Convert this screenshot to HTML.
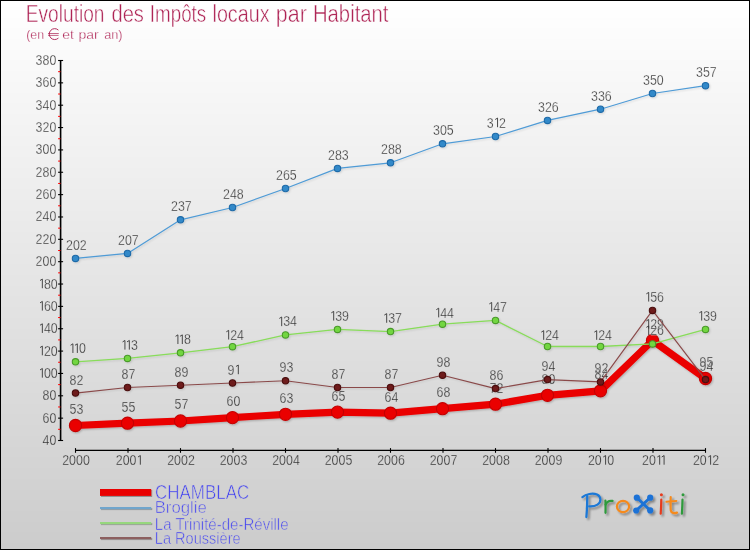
<!DOCTYPE html>
<html><head><meta charset="utf-8"><title>Evolution des Impôts locaux par Habitant</title>
<style>
html,body{margin:0;padding:0;background:#fff;}
body{width:750px;height:550px;overflow:hidden;font-family:"Liberation Sans",sans-serif;}
svg{display:block}
text{font-family:"Liberation Sans",sans-serif;}
</style></head><body>
<svg width="750" height="550" viewBox="0 0 750 550" style="will-change:transform">
<defs>
<linearGradient id="bg" x1="0" y1="0" x2="0" y2="1"><stop offset="0" stop-color="#fefefe"/><stop offset="1" stop-color="#cccccc"/></linearGradient>
<filter id="sh" x="-20%" y="-20%" width="140%" height="140%"><feGaussianBlur in="SourceAlpha" stdDeviation="1"/><feOffset dx="1" dy="1"/><feComponentTransfer><feFuncA type="linear" slope="0.24"/></feComponentTransfer><feMerge><feMergeNode/><feMergeNode in="SourceGraphic"/></feMerge></filter>
<filter id="sh1" x="-20%" y="-20%" width="140%" height="140%"><feGaussianBlur in="SourceAlpha" stdDeviation="0.9"/><feOffset dx="1" dy="1"/><feComponentTransfer><feFuncA type="linear" slope="0.14"/></feComponentTransfer><feMerge><feMergeNode/><feMergeNode in="SourceGraphic"/></feMerge></filter>
<filter id="shl" x="-10%" y="-50%" width="120%" height="200%"><feGaussianBlur in="SourceAlpha" stdDeviation="0.5"/><feOffset dx="0.9" dy="0.9"/><feComponentTransfer><feFuncA type="linear" slope="0.34"/></feComponentTransfer><feMerge><feMergeNode/><feMergeNode in="SourceGraphic"/></feMerge></filter>
<filter id="sh2" x="-20%" y="-20%" width="140%" height="140%"><feGaussianBlur in="SourceAlpha" stdDeviation="1"/><feOffset dx="1.5" dy="1.5"/><feComponentTransfer><feFuncA type="linear" slope="0.38"/></feComponentTransfer><feMerge><feMergeNode/><feMergeNode in="SourceGraphic"/></feMerge></filter>
</defs>
<rect x="0" y="0" width="750" height="550" fill="#000"/>
<rect x="1" y="1" width="748" height="6" fill="#ffffff"/><rect x="1" y="7" width="748" height="11" fill="#fefefe"/><rect x="1" y="18" width="748" height="10" fill="#fdfdfd"/><rect x="1" y="28" width="748" height="11" fill="#fcfcfc"/><rect x="1" y="39" width="748" height="11" fill="#fbfbfb"/><rect x="1" y="50" width="748" height="10" fill="#fafafa"/><rect x="1" y="60" width="748" height="11" fill="#f9f9f9"/><rect x="1" y="71" width="748" height="11" fill="#f8f8f8"/><rect x="1" y="82" width="748" height="11" fill="#f7f7f7"/><rect x="1" y="93" width="748" height="10" fill="#f6f6f6"/><rect x="1" y="103" width="748" height="11" fill="#f5f5f5"/><rect x="1" y="114" width="748" height="11" fill="#f4f4f4"/><rect x="1" y="125" width="748" height="11" fill="#f3f3f3"/><rect x="1" y="136" width="748" height="10" fill="#f2f2f2"/><rect x="1" y="146" width="748" height="11" fill="#f1f1f1"/><rect x="1" y="157" width="748" height="11" fill="#f0f0f0"/><rect x="1" y="168" width="748" height="10" fill="#efefef"/><rect x="1" y="178" width="748" height="11" fill="#eeeeee"/><rect x="1" y="189" width="748" height="11" fill="#ededed"/><rect x="1" y="200" width="748" height="11" fill="#ececec"/><rect x="1" y="211" width="748" height="10" fill="#ebebeb"/><rect x="1" y="221" width="748" height="11" fill="#eaeaea"/><rect x="1" y="232" width="748" height="11" fill="#e9e9e9"/><rect x="1" y="243" width="748" height="11" fill="#e8e8e8"/><rect x="1" y="254" width="748" height="10" fill="#e7e7e7"/><rect x="1" y="264" width="748" height="11" fill="#e6e6e6"/><rect x="1" y="275" width="748" height="11" fill="#e5e5e5"/><rect x="1" y="286" width="748" height="10" fill="#e4e4e4"/><rect x="1" y="296" width="748" height="11" fill="#e3e3e3"/><rect x="1" y="307" width="748" height="11" fill="#e2e2e2"/><rect x="1" y="318" width="748" height="11" fill="#e1e1e1"/><rect x="1" y="329" width="748" height="10" fill="#e0e0e0"/><rect x="1" y="339" width="748" height="11" fill="#dfdfdf"/><rect x="1" y="350" width="748" height="11" fill="#dedede"/><rect x="1" y="361" width="748" height="11" fill="#dddddd"/><rect x="1" y="372" width="748" height="10" fill="#dcdcdc"/><rect x="1" y="382" width="748" height="11" fill="#dbdbdb"/><rect x="1" y="393" width="748" height="11" fill="#dadada"/><rect x="1" y="404" width="748" height="10" fill="#d9d9d9"/><rect x="1" y="414" width="748" height="11" fill="#d8d8d8"/><rect x="1" y="425" width="748" height="11" fill="#d7d7d7"/><rect x="1" y="436" width="748" height="11" fill="#d6d6d6"/><rect x="1" y="447" width="748" height="10" fill="#d5d5d5"/><rect x="1" y="457" width="748" height="11" fill="#d4d4d4"/><rect x="1" y="468" width="748" height="11" fill="#d3d3d3"/><rect x="1" y="479" width="748" height="11" fill="#d2d2d2"/><rect x="1" y="490" width="748" height="10" fill="#d1d1d1"/><rect x="1" y="500" width="748" height="11" fill="#d0d0d0"/><rect x="1" y="511" width="748" height="11" fill="#cfcfcf"/><rect x="1" y="522" width="748" height="10" fill="#cecece"/><rect x="1" y="532" width="748" height="11" fill="#cdcdcd"/><rect x="1" y="543" width="748" height="6" fill="#cccccc"/>
<text x="25.75" y="22.00" font-size="24.7" textLength="78.76" lengthAdjust="spacingAndGlyphs" fill="#ae2455" stroke="#fefefe" stroke-width="0.5">Evolution</text>
<text x="111.48" y="22.00" font-size="24.7" textLength="32.48" lengthAdjust="spacingAndGlyphs" fill="#ae2455" stroke="#fefefe" stroke-width="0.5">des</text>
<text x="149.79" y="22.00" font-size="24.7" textLength="56.46" lengthAdjust="spacingAndGlyphs" fill="#ae2455" stroke="#fefefe" stroke-width="0.5">Impôts</text>
<text x="212.50" y="22.00" font-size="24.7" textLength="57.10" lengthAdjust="spacingAndGlyphs" fill="#ae2455" stroke="#fefefe" stroke-width="0.5">locaux</text>
<text x="275.80" y="22.00" font-size="24.7" textLength="30.98" lengthAdjust="spacingAndGlyphs" fill="#ae2455" stroke="#fefefe" stroke-width="0.5">par</text>
<text x="312.96" y="22.00" font-size="24.7" textLength="75.51" lengthAdjust="spacingAndGlyphs" fill="#ae2455" stroke="#fefefe" stroke-width="0.5">Habitant</text>
<text x="26.20" y="39.30" font-size="13.2" textLength="17.86" lengthAdjust="spacingAndGlyphs" fill="#ae2455" stroke="#fcfcfc" stroke-width="0.3">(en</text>
<text x="62.37" y="39.30" font-size="13.2" textLength="11.63" lengthAdjust="spacingAndGlyphs" fill="#ae2455" stroke="#fcfcfc" stroke-width="0.3">et</text>
<text x="78.50" y="39.30" font-size="13.2" textLength="20.26" lengthAdjust="spacingAndGlyphs" fill="#ae2455" stroke="#fcfcfc" stroke-width="0.3">par</text>
<text x="104.22" y="39.30" font-size="13.2" textLength="18.36" lengthAdjust="spacingAndGlyphs" fill="#ae2455" stroke="#fcfcfc" stroke-width="0.3">an)</text>
<path d="M58.42 30.11A5.45 5.45 0 1 0 58.42 38.09" fill="none" stroke="#ae2455" stroke-width="0.95"/><path d="M48 33.5H58.8M48 35.4H58.6" fill="none" stroke="#ae2455" stroke-width="0.7"/>
<g stroke="#000" stroke-width="1.6" fill="none"><line x1="60.6" y1="60" x2="60.6" y2="441"/></g>
<g stroke="#000" stroke-width="1.1"><line x1="58.1" y1="440.50" x2="63.1" y2="440.50"/><line x1="58.1" y1="418.15" x2="63.1" y2="418.15"/><line x1="58.1" y1="395.79" x2="63.1" y2="395.79"/><line x1="58.1" y1="373.44" x2="63.1" y2="373.44"/><line x1="58.1" y1="351.09" x2="63.1" y2="351.09"/><line x1="58.1" y1="328.74" x2="63.1" y2="328.74"/><line x1="58.1" y1="306.38" x2="63.1" y2="306.38"/><line x1="58.1" y1="284.03" x2="63.1" y2="284.03"/><line x1="58.1" y1="261.68" x2="63.1" y2="261.68"/><line x1="58.1" y1="239.32" x2="63.1" y2="239.32"/><line x1="58.1" y1="216.97" x2="63.1" y2="216.97"/><line x1="58.1" y1="194.62" x2="63.1" y2="194.62"/><line x1="58.1" y1="172.26" x2="63.1" y2="172.26"/><line x1="58.1" y1="149.91" x2="63.1" y2="149.91"/><line x1="58.1" y1="127.56" x2="63.1" y2="127.56"/><line x1="58.1" y1="105.21" x2="63.1" y2="105.21"/><line x1="58.1" y1="82.85" x2="63.1" y2="82.85"/><line x1="58.1" y1="60.50" x2="63.1" y2="60.50"/></g>
<g stroke="#f00" stroke-width="1"><line x1="58.1" y1="429.32" x2="60.5" y2="429.32"/><line x1="58.1" y1="406.97" x2="60.5" y2="406.97"/><line x1="58.1" y1="384.62" x2="60.5" y2="384.62"/><line x1="58.1" y1="362.26" x2="60.5" y2="362.26"/><line x1="58.1" y1="339.91" x2="60.5" y2="339.91"/><line x1="58.1" y1="317.56" x2="60.5" y2="317.56"/><line x1="58.1" y1="295.21" x2="60.5" y2="295.21"/><line x1="58.1" y1="272.85" x2="60.5" y2="272.85"/><line x1="58.1" y1="250.50" x2="60.5" y2="250.50"/><line x1="58.1" y1="228.15" x2="60.5" y2="228.15"/><line x1="58.1" y1="205.79" x2="60.5" y2="205.79"/><line x1="58.1" y1="183.44" x2="60.5" y2="183.44"/><line x1="58.1" y1="161.09" x2="60.5" y2="161.09"/><line x1="58.1" y1="138.74" x2="60.5" y2="138.74"/><line x1="58.1" y1="116.38" x2="60.5" y2="116.38"/><line x1="58.1" y1="94.03" x2="60.5" y2="94.03"/><line x1="58.1" y1="71.68" x2="60.5" y2="71.68"/></g>
<text transform="translate(42.50,445.00) scale(0.8993,1)" x="0.00 7.67" y="0" font-size="13.8" fill="#323232" stroke="#d6d6d6" stroke-width="0.28">40</text><text transform="translate(42.50,422.65) scale(0.8993,1)" x="0.00 7.67" y="0" font-size="13.8" fill="#323232" stroke="#d8d8d8" stroke-width="0.28">60</text><text transform="translate(42.50,400.29) scale(0.8993,1)" x="0.00 7.67" y="0" font-size="13.8" fill="#323232" stroke="#dadada" stroke-width="0.28">80</text><text transform="translate(43.90,377.94) scale(0.8993,1)" x="0.00 7.67" y="0" font-size="13.8" fill="#323232" stroke="#dcdcdc" stroke-width="0.28">00</text><path d="M42.35 377.64V368.49L40.00 369.94" fill="none" stroke="#323232" stroke-width="0.88" stroke-linejoin="miter"/><text transform="translate(43.90,355.59) scale(0.8993,1)" x="0.00 7.67" y="0" font-size="13.8" fill="#323232" stroke="#dedede" stroke-width="0.28">20</text><path d="M42.35 355.29V346.14L40.00 347.59" fill="none" stroke="#323232" stroke-width="0.88" stroke-linejoin="miter"/><text transform="translate(43.90,333.24) scale(0.8993,1)" x="0.00 7.67" y="0" font-size="13.8" fill="#323232" stroke="#e0e0e0" stroke-width="0.28">40</text><path d="M42.35 332.94V323.79L40.00 325.24" fill="none" stroke="#323232" stroke-width="0.88" stroke-linejoin="miter"/><text transform="translate(43.90,310.88) scale(0.8993,1)" x="0.00 7.67" y="0" font-size="13.8" fill="#323232" stroke="#e3e3e3" stroke-width="0.28">60</text><path d="M42.35 310.58V301.43L40.00 302.88" fill="none" stroke="#323232" stroke-width="0.88" stroke-linejoin="miter"/><text transform="translate(43.90,288.53) scale(0.8993,1)" x="0.00 7.67" y="0" font-size="13.8" fill="#323232" stroke="#e5e5e5" stroke-width="0.28">80</text><path d="M42.35 288.23V279.08L40.00 280.53" fill="none" stroke="#323232" stroke-width="0.88" stroke-linejoin="miter"/><text transform="translate(35.60,266.18) scale(0.8993,1)" x="0.00 7.67 15.35" y="0" font-size="13.8" fill="#323232" stroke="#e7e7e7" stroke-width="0.28">200</text><text transform="translate(35.60,243.82) scale(0.8993,1)" x="0.00 7.67 15.35" y="0" font-size="13.8" fill="#323232" stroke="#e9e9e9" stroke-width="0.28">220</text><text transform="translate(35.60,221.47) scale(0.8993,1)" x="0.00 7.67 15.35" y="0" font-size="13.8" fill="#323232" stroke="#ebebeb" stroke-width="0.28">240</text><text transform="translate(35.60,199.12) scale(0.8993,1)" x="0.00 7.67 15.35" y="0" font-size="13.8" fill="#323232" stroke="#ededed" stroke-width="0.28">260</text><text transform="translate(35.60,176.76) scale(0.8993,1)" x="0.00 7.67 15.35" y="0" font-size="13.8" fill="#323232" stroke="#efefef" stroke-width="0.28">280</text><text transform="translate(35.60,154.41) scale(0.8993,1)" x="0.00 7.67 15.35" y="0" font-size="13.8" fill="#323232" stroke="#f1f1f1" stroke-width="0.28">300</text><text transform="translate(35.60,132.06) scale(0.8993,1)" x="0.00 7.67 15.35" y="0" font-size="13.8" fill="#323232" stroke="#f3f3f3" stroke-width="0.28">320</text><text transform="translate(35.60,109.71) scale(0.8993,1)" x="0.00 7.67 15.35" y="0" font-size="13.8" fill="#323232" stroke="#f5f5f5" stroke-width="0.28">340</text><text transform="translate(35.60,87.35) scale(0.8993,1)" x="0.00 7.67 15.35" y="0" font-size="13.8" fill="#323232" stroke="#f7f7f7" stroke-width="0.28">360</text><text transform="translate(35.60,65.00) scale(0.8993,1)" x="0.00 7.67 15.35" y="0" font-size="13.8" fill="#323232" stroke="#f9f9f9" stroke-width="0.28">380</text>
<g stroke="#000"><line x1="75" y1="450.4" x2="706" y2="450.4" stroke-width="1.4"/><line x1="75.5" y1="448.1" x2="75.5" y2="452.8" stroke-width="1.1"/><line x1="128.0" y1="448.1" x2="128.0" y2="452.8" stroke-width="1.1"/><line x1="180.5" y1="448.1" x2="180.5" y2="452.8" stroke-width="1.1"/><line x1="233.0" y1="448.1" x2="233.0" y2="452.8" stroke-width="1.1"/><line x1="285.5" y1="448.1" x2="285.5" y2="452.8" stroke-width="1.1"/><line x1="338.0" y1="448.1" x2="338.0" y2="452.8" stroke-width="1.1"/><line x1="390.5" y1="448.1" x2="390.5" y2="452.8" stroke-width="1.1"/><line x1="443.0" y1="448.1" x2="443.0" y2="452.8" stroke-width="1.1"/><line x1="495.5" y1="448.1" x2="495.5" y2="452.8" stroke-width="1.1"/><line x1="548.0" y1="448.1" x2="548.0" y2="452.8" stroke-width="1.1"/><line x1="600.5" y1="448.1" x2="600.5" y2="452.8" stroke-width="1.1"/><line x1="653.0" y1="448.1" x2="653.0" y2="452.8" stroke-width="1.1"/><line x1="705.5" y1="448.1" x2="705.5" y2="452.8" stroke-width="1.1"/></g>
<text transform="translate(62.20,465.00) scale(0.8993,1)" x="0.00 7.67 15.35 23.02" y="0" font-size="13.8" fill="#323232" stroke="#d4d4d4" stroke-width="0.28">2000</text><text transform="translate(115.78,465.00) scale(0.8993,1)" x="0.00 7.67 15.35" y="0" font-size="13.8" fill="#323232" stroke="#d4d4d4" stroke-width="0.28">200</text><path d="M140.33 464.70V455.55L137.98 457.00" fill="none" stroke="#323232" stroke-width="0.88" stroke-linejoin="miter"/><text transform="translate(167.20,465.00) scale(0.8993,1)" x="0.00 7.67 15.35 23.02" y="0" font-size="13.8" fill="#323232" stroke="#d4d4d4" stroke-width="0.28">2002</text><text transform="translate(219.70,465.00) scale(0.8993,1)" x="0.00 7.67 15.35 23.02" y="0" font-size="13.8" fill="#323232" stroke="#d4d4d4" stroke-width="0.28">2003</text><text transform="translate(272.20,465.00) scale(0.8993,1)" x="0.00 7.67 15.35 23.02" y="0" font-size="13.8" fill="#323232" stroke="#d4d4d4" stroke-width="0.28">2004</text><text transform="translate(324.70,465.00) scale(0.8993,1)" x="0.00 7.67 15.35 23.02" y="0" font-size="13.8" fill="#323232" stroke="#d4d4d4" stroke-width="0.28">2005</text><text transform="translate(377.20,465.00) scale(0.8993,1)" x="0.00 7.67 15.35 23.02" y="0" font-size="13.8" fill="#323232" stroke="#d4d4d4" stroke-width="0.28">2006</text><text transform="translate(429.70,465.00) scale(0.8993,1)" x="0.00 7.67 15.35 23.02" y="0" font-size="13.8" fill="#323232" stroke="#d4d4d4" stroke-width="0.28">2007</text><text transform="translate(482.20,465.00) scale(0.8993,1)" x="0.00 7.67 15.35 23.02" y="0" font-size="13.8" fill="#323232" stroke="#d4d4d4" stroke-width="0.28">2008</text><text transform="translate(534.70,465.00) scale(0.8993,1)" x="0.00 7.67 15.35 23.02" y="0" font-size="13.8" fill="#323232" stroke="#d4d4d4" stroke-width="0.28">2009</text><text transform="translate(587.95,465.00) scale(0.8993,1)" x="0.00 7.67 21.35" y="0" font-size="13.8" fill="#323232" stroke="#d4d4d4" stroke-width="0.28">200</text><path d="M605.60 464.70V455.55L603.25 457.00" fill="none" stroke="#323232" stroke-width="0.88" stroke-linejoin="miter"/><text transform="translate(642.03,465.00) scale(0.8993,1)" x="0.00 7.67" y="0" font-size="13.8" fill="#323232" stroke="#d4d4d4" stroke-width="0.28">20</text><path d="M659.68 464.70V455.55L657.33 457.00" fill="none" stroke="#323232" stroke-width="0.88" stroke-linejoin="miter"/><path d="M664.08 464.70V455.55L661.73 457.00" fill="none" stroke="#323232" stroke-width="0.88" stroke-linejoin="miter"/><text transform="translate(692.95,465.00) scale(0.8993,1)" x="0.00 7.67 21.35" y="0" font-size="13.8" fill="#323232" stroke="#d4d4d4" stroke-width="0.28">202</text><path d="M710.60 464.70V455.55L708.25 457.00" fill="none" stroke="#323232" stroke-width="0.88" stroke-linejoin="miter"/>
<g filter="url(#sh)"><polyline points="75.5,425.5 127.5,423.2 180.5,421.0 232.5,417.6 285.5,414.3 337.5,412.1 390.5,413.2 442.5,408.7 495.5,404.2 547.5,395.3 600.5,390.8 652.5,340.5 705.5,378.5" fill="none" stroke="#ea0000" stroke-width="7.2" stroke-linejoin="round"/><circle cx="75.5" cy="425.5" r="6.1" fill="#ea0000" stroke="#c40000" stroke-width="1.1"/><circle cx="127.5" cy="423.2" r="6.1" fill="#ea0000" stroke="#c40000" stroke-width="1.1"/><circle cx="180.5" cy="421.0" r="6.1" fill="#ea0000" stroke="#c40000" stroke-width="1.1"/><circle cx="232.5" cy="417.6" r="6.1" fill="#ea0000" stroke="#c40000" stroke-width="1.1"/><circle cx="285.5" cy="414.3" r="6.1" fill="#ea0000" stroke="#c40000" stroke-width="1.1"/><circle cx="337.5" cy="412.1" r="6.1" fill="#ea0000" stroke="#c40000" stroke-width="1.1"/><circle cx="390.5" cy="413.2" r="6.1" fill="#ea0000" stroke="#c40000" stroke-width="1.1"/><circle cx="442.5" cy="408.7" r="6.1" fill="#ea0000" stroke="#c40000" stroke-width="1.1"/><circle cx="495.5" cy="404.2" r="6.1" fill="#ea0000" stroke="#c40000" stroke-width="1.1"/><circle cx="547.5" cy="395.3" r="6.1" fill="#ea0000" stroke="#c40000" stroke-width="1.1"/><circle cx="600.5" cy="390.8" r="6.1" fill="#ea0000" stroke="#c40000" stroke-width="1.1"/><circle cx="652.5" cy="340.5" r="6.1" fill="#ea0000" stroke="#c40000" stroke-width="1.1"/><circle cx="705.5" cy="378.5" r="6.1" fill="#ea0000" stroke="#c40000" stroke-width="1.1"/></g>
<text transform="translate(69.50,413.87) scale(0.8993,1)" x="0.00 7.67" y="0" font-size="13.8" fill="#323232" stroke="#d9d9d9" stroke-width="0.28">53</text><text transform="translate(121.50,411.64) scale(0.8993,1)" x="0.00 7.67" y="0" font-size="13.8" fill="#323232" stroke="#d9d9d9" stroke-width="0.28">55</text><text transform="translate(174.50,409.40) scale(0.8993,1)" x="0.00 7.67" y="0" font-size="13.8" fill="#323232" stroke="#d9d9d9" stroke-width="0.28">57</text><text transform="translate(226.50,406.05) scale(0.8993,1)" x="0.00 7.67" y="0" font-size="13.8" fill="#323232" stroke="#dadada" stroke-width="0.28">60</text><text transform="translate(279.50,402.69) scale(0.8993,1)" x="0.00 7.67" y="0" font-size="13.8" fill="#323232" stroke="#dadada" stroke-width="0.28">63</text><text transform="translate(331.50,401.26) scale(0.8993,1)" x="0.00 7.67" y="0" font-size="13.8" fill="#323232" stroke="#dadada" stroke-width="0.28">65</text><text transform="translate(384.50,401.58) scale(0.8993,1)" x="0.00 7.67" y="0" font-size="13.8" fill="#323232" stroke="#dadada" stroke-width="0.28">64</text><text transform="translate(436.50,397.11) scale(0.8993,1)" x="0.00 7.67" y="0" font-size="13.8" fill="#323232" stroke="#dbdbdb" stroke-width="0.28">68</text><text transform="translate(489.50,392.64) scale(0.8993,1)" x="0.00 7.67" y="0" font-size="13.8" fill="#323232" stroke="#dbdbdb" stroke-width="0.28">72</text><text transform="translate(541.50,383.69) scale(0.8993,1)" x="0.00 7.67" y="0" font-size="13.8" fill="#323232" stroke="#dcdcdc" stroke-width="0.28">80</text><text transform="translate(594.50,379.22) scale(0.8993,1)" x="0.00 7.67" y="0" font-size="13.8" fill="#323232" stroke="#dcdcdc" stroke-width="0.28">84</text><text transform="translate(650.23,328.93) scale(0.8993,1)" x="0.00 7.67" y="0" font-size="13.8" fill="#323232" stroke="#e1e1e1" stroke-width="0.28">29</text><path d="M648.68 328.63V319.48L646.33 320.93" fill="none" stroke="#323232" stroke-width="0.88" stroke-linejoin="miter"/><text transform="translate(699.50,366.93) scale(0.8993,1)" x="0.00 7.67" y="0" font-size="13.8" fill="#323232" stroke="#dddddd" stroke-width="0.28">95</text>
<g filter="url(#sh1)"><polyline points="75.5,258.4 127.5,253.4 180.5,219.8 232.5,207.5 285.5,188.5 337.5,168.4 390.5,162.8 442.5,143.8 495.5,136.5 547.5,120.4 600.5,109.2 652.5,93.5 705.5,85.7" fill="none" stroke="#4f9bd6" stroke-width="1.2" stroke-linejoin="round"/><circle cx="75.5" cy="258.4" r="3.2" fill="#3189c9" stroke="#1f6aa8" stroke-width="1.1"/><circle cx="127.5" cy="253.4" r="3.2" fill="#3189c9" stroke="#1f6aa8" stroke-width="1.1"/><circle cx="180.5" cy="219.8" r="3.2" fill="#3189c9" stroke="#1f6aa8" stroke-width="1.1"/><circle cx="232.5" cy="207.5" r="3.2" fill="#3189c9" stroke="#1f6aa8" stroke-width="1.1"/><circle cx="285.5" cy="188.5" r="3.2" fill="#3189c9" stroke="#1f6aa8" stroke-width="1.1"/><circle cx="337.5" cy="168.4" r="3.2" fill="#3189c9" stroke="#1f6aa8" stroke-width="1.1"/><circle cx="390.5" cy="162.8" r="3.2" fill="#3189c9" stroke="#1f6aa8" stroke-width="1.1"/><circle cx="442.5" cy="143.8" r="3.2" fill="#3189c9" stroke="#1f6aa8" stroke-width="1.1"/><circle cx="495.5" cy="136.5" r="3.2" fill="#3189c9" stroke="#1f6aa8" stroke-width="1.1"/><circle cx="547.5" cy="120.4" r="3.2" fill="#3189c9" stroke="#1f6aa8" stroke-width="1.1"/><circle cx="600.5" cy="109.2" r="3.2" fill="#3189c9" stroke="#1f6aa8" stroke-width="1.1"/><circle cx="652.5" cy="93.5" r="3.2" fill="#3189c9" stroke="#1f6aa8" stroke-width="1.1"/><circle cx="705.5" cy="85.7" r="3.2" fill="#3189c9" stroke="#1f6aa8" stroke-width="1.1"/></g>
<text transform="translate(66.05,250.44) scale(0.8993,1)" x="0.00 7.67 15.35" y="0" font-size="13.8" fill="#323232" stroke="#e8e8e8" stroke-width="0.28">202</text><text transform="translate(118.05,244.85) scale(0.8993,1)" x="0.00 7.67 15.35" y="0" font-size="13.8" fill="#323232" stroke="#e9e9e9" stroke-width="0.28">207</text><text transform="translate(171.05,211.32) scale(0.8993,1)" x="0.00 7.67 15.35" y="0" font-size="13.8" fill="#323232" stroke="#ececec" stroke-width="0.28">237</text><text transform="translate(223.05,199.03) scale(0.8993,1)" x="0.00 7.67 15.35" y="0" font-size="13.8" fill="#323232" stroke="#ededed" stroke-width="0.28">248</text><text transform="translate(276.05,180.03) scale(0.8993,1)" x="0.00 7.67 15.35" y="0" font-size="13.8" fill="#323232" stroke="#efefef" stroke-width="0.28">265</text><text transform="translate(328.05,159.91) scale(0.8993,1)" x="0.00 7.67 15.35" y="0" font-size="13.8" fill="#323232" stroke="#f1f1f1" stroke-width="0.28">283</text><text transform="translate(381.05,154.32) scale(0.8993,1)" x="0.00 7.67 15.35" y="0" font-size="13.8" fill="#323232" stroke="#f1f1f1" stroke-width="0.28">288</text><text transform="translate(433.05,135.32) scale(0.8993,1)" x="0.00 7.67 15.35" y="0" font-size="13.8" fill="#323232" stroke="#f3f3f3" stroke-width="0.28">305</text><text transform="translate(486.80,127.50) scale(0.8993,1)" x="0.00 13.68" y="0" font-size="13.8" fill="#323232" stroke="#f4f4f4" stroke-width="0.28">32</text><path d="M497.55 127.20V118.05L495.20 119.50" fill="none" stroke="#323232" stroke-width="0.88" stroke-linejoin="miter"/><text transform="translate(538.05,111.85) scale(0.8993,1)" x="0.00 7.67 15.35" y="0" font-size="13.8" fill="#323232" stroke="#f5f5f5" stroke-width="0.28">326</text><text transform="translate(591.05,100.68) scale(0.8993,1)" x="0.00 7.67 15.35" y="0" font-size="13.8" fill="#323232" stroke="#f6f6f6" stroke-width="0.28">336</text><text transform="translate(643.05,85.03) scale(0.8993,1)" x="0.00 7.67 15.35" y="0" font-size="13.8" fill="#323232" stroke="#f7f7f7" stroke-width="0.28">350</text><text transform="translate(696.05,77.21) scale(0.8993,1)" x="0.00 7.67 15.35" y="0" font-size="13.8" fill="#323232" stroke="#f8f8f8" stroke-width="0.28">357</text>
<g filter="url(#sh1)"><polyline points="75.5,361.8 127.5,358.4 180.5,352.8 232.5,346.7 285.5,334.9 337.5,329.4 390.5,331.6 442.5,324.2 495.5,320.4 547.5,346.5 600.5,346.5 652.5,343.9 705.5,329.4" fill="none" stroke="#88dc5a" stroke-width="1.3" stroke-linejoin="round"/><circle cx="75.5" cy="361.8" r="3.2" fill="#72d640" stroke="#4a9a2a" stroke-width="1.1"/><circle cx="127.5" cy="358.4" r="3.2" fill="#72d640" stroke="#4a9a2a" stroke-width="1.1"/><circle cx="180.5" cy="352.8" r="3.2" fill="#72d640" stroke="#4a9a2a" stroke-width="1.1"/><circle cx="232.5" cy="346.7" r="3.2" fill="#72d640" stroke="#4a9a2a" stroke-width="1.1"/><circle cx="285.5" cy="334.9" r="3.2" fill="#72d640" stroke="#4a9a2a" stroke-width="1.1"/><circle cx="337.5" cy="329.4" r="3.2" fill="#72d640" stroke="#4a9a2a" stroke-width="1.1"/><circle cx="390.5" cy="331.6" r="3.2" fill="#72d640" stroke="#4a9a2a" stroke-width="1.1"/><circle cx="442.5" cy="324.2" r="3.2" fill="#72d640" stroke="#4a9a2a" stroke-width="1.1"/><circle cx="495.5" cy="320.4" r="3.2" fill="#72d640" stroke="#4a9a2a" stroke-width="1.1"/><circle cx="547.5" cy="346.5" r="3.2" fill="#72d640" stroke="#4a9a2a" stroke-width="1.1"/><circle cx="600.5" cy="346.5" r="3.2" fill="#72d640" stroke="#4a9a2a" stroke-width="1.1"/><circle cx="652.5" cy="343.9" r="3.2" fill="#72d640" stroke="#4a9a2a" stroke-width="1.1"/><circle cx="705.5" cy="329.4" r="3.2" fill="#72d640" stroke="#4a9a2a" stroke-width="1.1"/></g>
<text transform="translate(78.88,353.26) scale(0.8993,1)" x="0.00" y="0" font-size="13.8" fill="#323232" stroke="#dfdfdf" stroke-width="0.28">0</text><path d="M72.92 352.96V343.81L70.58 345.26" fill="none" stroke="#323232" stroke-width="0.88" stroke-linejoin="miter"/><path d="M77.33 352.96V343.81L74.98 345.26" fill="none" stroke="#323232" stroke-width="0.88" stroke-linejoin="miter"/><text transform="translate(130.88,349.91) scale(0.8993,1)" x="0.00" y="0" font-size="13.8" fill="#323232" stroke="#dfdfdf" stroke-width="0.28">3</text><path d="M124.93 349.61V340.46L122.58 341.91" fill="none" stroke="#323232" stroke-width="0.88" stroke-linejoin="miter"/><path d="M129.33 349.61V340.46L126.98 341.91" fill="none" stroke="#323232" stroke-width="0.88" stroke-linejoin="miter"/><text transform="translate(183.88,344.32) scale(0.8993,1)" x="0.00" y="0" font-size="13.8" fill="#323232" stroke="#dfdfdf" stroke-width="0.28">8</text><path d="M177.92 344.02V334.87L175.57 336.32" fill="none" stroke="#323232" stroke-width="0.88" stroke-linejoin="miter"/><path d="M182.32 344.02V334.87L179.97 336.32" fill="none" stroke="#323232" stroke-width="0.88" stroke-linejoin="miter"/><text transform="translate(230.22,339.82) scale(0.8993,1)" x="0.00 7.67" y="0" font-size="13.8" fill="#323232" stroke="#e0e0e0" stroke-width="0.28">24</text><path d="M228.67 339.52V330.37L226.32 331.82" fill="none" stroke="#323232" stroke-width="0.88" stroke-linejoin="miter"/><text transform="translate(283.22,326.44) scale(0.8993,1)" x="0.00 7.67" y="0" font-size="13.8" fill="#323232" stroke="#e1e1e1" stroke-width="0.28">34</text><path d="M281.68 326.14V316.99L279.32 318.44" fill="none" stroke="#323232" stroke-width="0.88" stroke-linejoin="miter"/><text transform="translate(335.22,320.85) scale(0.8993,1)" x="0.00 7.67" y="0" font-size="13.8" fill="#323232" stroke="#e2e2e2" stroke-width="0.28">39</text><path d="M333.68 320.55V311.40L331.32 312.85" fill="none" stroke="#323232" stroke-width="0.88" stroke-linejoin="miter"/><text transform="translate(388.22,323.09) scale(0.8993,1)" x="0.00 7.67" y="0" font-size="13.8" fill="#323232" stroke="#e1e1e1" stroke-width="0.28">37</text><path d="M386.68 322.79V313.64L384.32 315.09" fill="none" stroke="#323232" stroke-width="0.88" stroke-linejoin="miter"/><text transform="translate(440.22,317.66) scale(0.8993,1)" x="0.00 7.67" y="0" font-size="13.8" fill="#323232" stroke="#e2e2e2" stroke-width="0.28">44</text><path d="M438.68 317.36V308.21L436.32 309.66" fill="none" stroke="#323232" stroke-width="0.88" stroke-linejoin="miter"/><text transform="translate(493.22,311.91) scale(0.8993,1)" x="0.00 7.67" y="0" font-size="13.8" fill="#323232" stroke="#e2e2e2" stroke-width="0.28">47</text><path d="M491.68 311.61V302.46L489.32 303.91" fill="none" stroke="#323232" stroke-width="0.88" stroke-linejoin="miter"/><text transform="translate(545.23,340.12) scale(0.8993,1)" x="0.00 7.67" y="0" font-size="13.8" fill="#323232" stroke="#e0e0e0" stroke-width="0.28">24</text><path d="M543.68 339.82V330.67L541.33 332.12" fill="none" stroke="#323232" stroke-width="0.88" stroke-linejoin="miter"/><text transform="translate(598.23,340.12) scale(0.8993,1)" x="0.00 7.67" y="0" font-size="13.8" fill="#323232" stroke="#e0e0e0" stroke-width="0.28">24</text><path d="M596.68 339.82V330.67L594.33 332.12" fill="none" stroke="#323232" stroke-width="0.88" stroke-linejoin="miter"/><text transform="translate(650.23,335.38) scale(0.8993,1)" x="0.00 7.67" y="0" font-size="13.8" fill="#323232" stroke="#e0e0e0" stroke-width="0.28">26</text><path d="M648.68 335.08V325.93L646.33 327.38" fill="none" stroke="#323232" stroke-width="0.88" stroke-linejoin="miter"/><text transform="translate(703.23,320.85) scale(0.8993,1)" x="0.00 7.67" y="0" font-size="13.8" fill="#323232" stroke="#e2e2e2" stroke-width="0.28">39</text><path d="M701.68 320.55V311.40L699.33 312.85" fill="none" stroke="#323232" stroke-width="0.88" stroke-linejoin="miter"/>
<g filter="url(#sh1)"><polyline points="75.5,393.1 127.5,387.5 180.5,385.2 232.5,383.0 285.5,380.8 337.5,387.5 390.5,387.5 442.5,375.2 495.5,388.6 547.5,379.6 600.5,381.9 652.5,310.4 705.5,379.6" fill="none" stroke="#8a4a4a" stroke-width="1.15" stroke-linejoin="round"/><circle cx="75.5" cy="393.1" r="3.2" fill="#6e1a1a" stroke="#4a1010" stroke-width="1.1"/><circle cx="127.5" cy="387.5" r="3.2" fill="#6e1a1a" stroke="#4a1010" stroke-width="1.1"/><circle cx="180.5" cy="385.2" r="3.2" fill="#6e1a1a" stroke="#4a1010" stroke-width="1.1"/><circle cx="232.5" cy="383.0" r="3.2" fill="#6e1a1a" stroke="#4a1010" stroke-width="1.1"/><circle cx="285.5" cy="380.8" r="3.2" fill="#6e1a1a" stroke="#4a1010" stroke-width="1.1"/><circle cx="337.5" cy="387.5" r="3.2" fill="#6e1a1a" stroke="#4a1010" stroke-width="1.1"/><circle cx="390.5" cy="387.5" r="3.2" fill="#6e1a1a" stroke="#4a1010" stroke-width="1.1"/><circle cx="442.5" cy="375.2" r="3.2" fill="#6e1a1a" stroke="#4a1010" stroke-width="1.1"/><circle cx="495.5" cy="388.6" r="3.2" fill="#6e1a1a" stroke="#4a1010" stroke-width="1.1"/><circle cx="547.5" cy="379.6" r="3.2" fill="#6e1a1a" stroke="#4a1010" stroke-width="1.1"/><circle cx="600.5" cy="381.9" r="3.2" fill="#6e1a1a" stroke="#4a1010" stroke-width="1.1"/><circle cx="652.5" cy="310.4" r="3.2" fill="#6e1a1a" stroke="#4a1010" stroke-width="1.1"/><circle cx="705.5" cy="379.6" r="3.2" fill="#6e1a1a" stroke="#4a1010" stroke-width="1.1"/></g>
<text transform="translate(69.50,384.56) scale(0.8993,1)" x="0.00 7.67" y="0" font-size="13.8" fill="#323232" stroke="#dcdcdc" stroke-width="0.28">82</text><text transform="translate(121.50,378.97) scale(0.8993,1)" x="0.00 7.67" y="0" font-size="13.8" fill="#323232" stroke="#dcdcdc" stroke-width="0.28">87</text><text transform="translate(174.50,376.74) scale(0.8993,1)" x="0.00 7.67" y="0" font-size="13.8" fill="#323232" stroke="#dcdcdc" stroke-width="0.28">89</text><text transform="translate(227.57,374.50) scale(0.8993,1)" x="0.00" y="0" font-size="13.8" fill="#323232" stroke="#dddddd" stroke-width="0.28">9</text><path d="M238.32 374.20V365.05L235.97 366.50" fill="none" stroke="#323232" stroke-width="0.88" stroke-linejoin="miter"/><text transform="translate(279.50,372.26) scale(0.8993,1)" x="0.00 7.67" y="0" font-size="13.8" fill="#323232" stroke="#dddddd" stroke-width="0.28">93</text><text transform="translate(331.50,378.97) scale(0.8993,1)" x="0.00 7.67" y="0" font-size="13.8" fill="#323232" stroke="#dcdcdc" stroke-width="0.28">87</text><text transform="translate(384.50,378.97) scale(0.8993,1)" x="0.00 7.67" y="0" font-size="13.8" fill="#323232" stroke="#dcdcdc" stroke-width="0.28">87</text><text transform="translate(436.50,366.68) scale(0.8993,1)" x="0.00 7.67" y="0" font-size="13.8" fill="#323232" stroke="#dddddd" stroke-width="0.28">98</text><text transform="translate(489.50,380.09) scale(0.8993,1)" x="0.00 7.67" y="0" font-size="13.8" fill="#323232" stroke="#dcdcdc" stroke-width="0.28">86</text><text transform="translate(541.50,371.15) scale(0.8993,1)" x="0.00 7.67" y="0" font-size="13.8" fill="#323232" stroke="#dddddd" stroke-width="0.28">94</text><text transform="translate(594.50,373.38) scale(0.8993,1)" x="0.00 7.67" y="0" font-size="13.8" fill="#323232" stroke="#dddddd" stroke-width="0.28">92</text><text transform="translate(650.23,301.85) scale(0.8993,1)" x="0.00 7.67" y="0" font-size="13.8" fill="#323232" stroke="#e3e3e3" stroke-width="0.28">56</text><path d="M648.68 301.55V292.40L646.33 293.85" fill="none" stroke="#323232" stroke-width="0.88" stroke-linejoin="miter"/><text transform="translate(699.50,371.15) scale(0.8993,1)" x="0.00 7.67" y="0" font-size="13.8" fill="#323232" stroke="#dddddd" stroke-width="0.28">94</text>
<g filter="url(#shl)"><rect x="100" y="489" width="51.2" height="6.9" fill="#e90000"/><rect x="100" y="507" width="51.2" height="2.1" fill="#6fa5cc"/><rect x="100" y="522" width="51.2" height="2.1" fill="#96d77d"/><rect x="100" y="537" width="51.2" height="2.1" fill="#8c5f5f"/></g>
<text x="155.04" y="499.00" font-size="19.7" textLength="94.23" lengthAdjust="spacingAndGlyphs" fill="#4040f2" stroke="#d1d1d1" stroke-width="0.65">CHAMBLAC</text>
<text x="154.69" y="512.60" font-size="17.3" textLength="52.08" lengthAdjust="spacingAndGlyphs" fill="#4040f2" stroke="#d0d0d0" stroke-width="0.6">Broglie</text>
<text x="154.81" y="529.50" font-size="17.3" textLength="133.79" lengthAdjust="spacingAndGlyphs" fill="#4040f2" stroke="#cecece" stroke-width="0.6">La Trinité-de-Réville</text>
<text x="154.85" y="544.20" font-size="17.3" textLength="85.75" lengthAdjust="spacingAndGlyphs" fill="#4040f2" stroke="#cdcdcd" stroke-width="0.6">La Roussière</text>
<g filter="url(#sh2)" fill="none" stroke-linecap="round" stroke-linejoin="round">
<path d="M587.2 496.2 C587.3 503 587 510 586.4 517" stroke="#1b78d6" stroke-width="2.3"/>
<path d="M582.4 497.2 C586 494.2 592.5 492.6 597 494.6 C601.5 496.8 601.4 502 597.5 504.6 C595 506.2 592 506.6 589.2 506.4" stroke="#1b78d6" stroke-width="2.2"/>
<path d="M605.4 500.6 C605.6 504.5 605.6 508.5 605.5 512.8" stroke="#2f9a3c" stroke-width="2.2"/>
<path d="M605.6 504.6 C606.6 502 609.4 500.4 612.6 500.9" stroke="#2f9a3c" stroke-width="2.2"/>
<ellipse cx="623" cy="506.5" rx="6.1" ry="5.7" stroke="#f58a1e" stroke-width="2.2"/>
<path d="M637 497.8 L650 510.2 M650 497.8 L636.4 510.4" stroke="#1b72d6" stroke-width="2.8"/>
<path d="M661.3 499.6 C661.2 504 661 509 660.7 513.6" stroke="#e63a1c" stroke-width="2.2"/>
<path d="M670.7 497 C670.6 501.5 670.4 506.5 670.8 510.5 C671.2 513 674.5 513.5 677 512.6" stroke="#f58a1e" stroke-width="2.2"/>
<path d="M666.4 501.8 C669.5 501.4 673 501 676.4 500.9" stroke="#f58a1e" stroke-width="2.0"/>
<path d="M682.5 499.6 C682.4 504 682.2 509 681.9 513.6" stroke="#2f9a3c" stroke-width="2.2"/>
<g stroke="none">
<circle cx="636.8" cy="497.7" r="3.1" fill="#1b72d6"/><circle cx="650.2" cy="497.7" r="3.1" fill="#1b72d6"/>
<circle cx="636.2" cy="510.5" r="3.1" fill="#1b72d6"/><circle cx="650.2" cy="510.4" r="3.1" fill="#1b72d6"/>
<circle cx="661.4" cy="494.8" r="1.5" fill="#e63a1c"/><circle cx="683" cy="494.8" r="1.5" fill="#2f9a3c"/>
</g>
</g>
</svg></body></html>
